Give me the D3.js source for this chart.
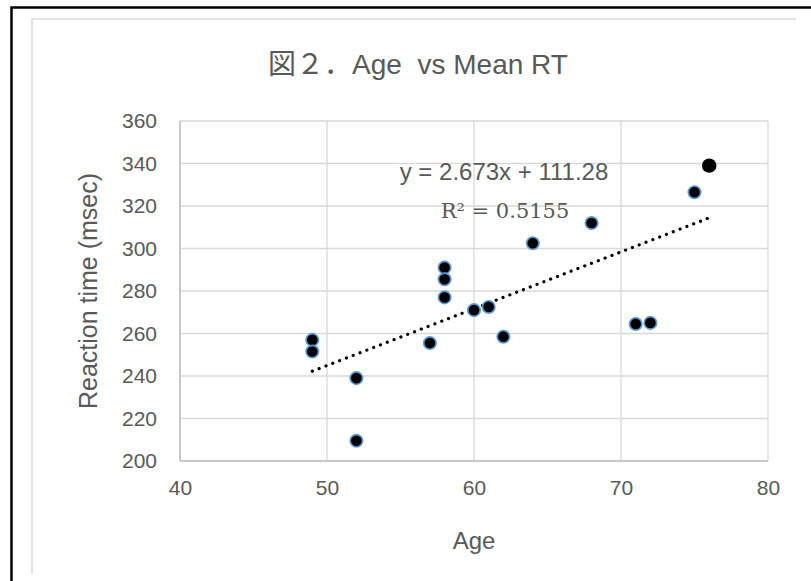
<!DOCTYPE html>
<html>
<head>
<meta charset="utf-8">
<script src="https://cdn.jsdelivr.net/npm/d3@7"></script>
<style>
  body { margin: 0; background: #fff; }
  text { font-family: "Liberation Sans", Arial, sans-serif; fill: #595959; }
</style>
</head>
<body>
<svg class="viz"></svg>
<script>
var width = 811,
  height = 581;

// data
var ages = [49, 49, 52, 52, 57, 58, 58, 58, 60, 61, 62, 64, 68, 71, 72, 75];
var rts = [257, 251.5, 239, 209.5, 255.5, 291, 285.5, 277, 271, 272.5, 258.5, 302.5, 312, 264.5, 265, 326.5];
// highlighted point (no blue ring, bigger)
var big_age = [76];
var big_rt = [339];

var x_ticks = [40, 50, 60, 70, 80];
var y_ticks = [200, 220, 240, 260, 280, 300, 320, 340, 360];

var slope = 2.673,
  intercept = 111.28,
  r2 = "0.5155";

var margin = { left: 180, right: 43, top: 121, bottom: 120 };

var viz = d3.select(".viz")
  .attr("width", width)
  .attr("height", height);

// outer frame (black) + inner chart area edge (light gray)
viz.append("path")
  .attr("d", "M11.5,581 V7.5 H811")
  .attr("fill", "none").attr("stroke", "#000").attr("stroke-width", 2.5);
viz.append("path")
  .attr("d", "M32,574 V19 H796")
  .attr("fill", "none").attr("stroke", "#d9d9d9").attr("stroke-width", 1.5);

var x = d3.scaleLinear().domain([40, 80]).range([margin.left, width - margin.right]);
var y = d3.scaleLinear().domain([200, 360]).range([height - margin.bottom, margin.top]);

// grid
viz.append("g").selectAll("line").data(y_ticks).enter().append("line")
  .attr("x1", x(40)).attr("x2", x(80))
  .attr("y1", d => y(d)).attr("y2", d => y(d))
  .attr("stroke", "#d9d9d9").attr("stroke-width", 1.3);
viz.append("g").selectAll("line").data(x_ticks).enter().append("line")
  .attr("x1", d => x(d)).attr("x2", d => x(d))
  .attr("y1", y(200)).attr("y2", y(360))
  .attr("stroke", "#d9d9d9").attr("stroke-width", 1.3);

// axes lines
viz.append("line")
  .attr("x1", x(40)).attr("x2", x(80)).attr("y1", y(200)).attr("y2", y(200))
  .attr("stroke", "#bfbfbf").attr("stroke-width", 1.5);
viz.append("line")
  .attr("x1", x(40)).attr("x2", x(40)).attr("y1", y(200)).attr("y2", y(360))
  .attr("stroke", "#bfbfbf").attr("stroke-width", 1.5);

// tick labels via d3 axes, then strip the lines
var xAxis = viz.append("g")
  .attr("transform", "translate(0," + y(200) + ")")
  .call(d3.axisBottom(x).tickValues(x_ticks).tickSize(0).tickPadding(19));
var yAxis = viz.append("g")
  .attr("transform", "translate(" + x(40) + ",0)")
  .call(d3.axisLeft(y).tickValues(y_ticks).tickSize(0).tickPadding(23));
[xAxis, yAxis].forEach(function(a) {
  a.select(".domain").remove();
  a.selectAll("text")
    .style("font-family", "'Liberation Sans', Arial, sans-serif")
    .style("font-size", "21px")
    .attr("fill", "#595959");
});

// trendline
var tr = [49, 76];
viz.append("line")
  .attr("x1", x(tr[0])).attr("y1", y(slope * tr[0] + intercept))
  .attr("x2", x(tr[1])).attr("y2", y(slope * tr[1] + intercept))
  .attr("stroke", "#000").attr("stroke-width", 3.2)
  .attr("stroke-linecap", "round")
  .attr("stroke-dasharray", "0.1 7.2");

// points
var pts = ages.map(function(a, i) { return [a, rts[i]]; });
viz.append("g").selectAll("circle").data(pts).enter().append("circle")
  .attr("cx", d => x(d[0])).attr("cy", d => y(d[1]))
  .attr("r", 6.2)
  .attr("fill", "#000").attr("stroke", "#5b9bd5").attr("stroke-width", 1.7);
viz.append("g").selectAll("circle").data(big_age.map((a, i) => [a, big_rt[i]])).enter().append("circle")
  .attr("cx", d => x(d[0])).attr("cy", d => y(d[1]))
  .attr("r", 7.2)
  .attr("fill", "#000");

// trendline labels
viz.append("text")
  .attr("x", 504).attr("y", 180)
  .attr("text-anchor", "middle")
  .style("font-size", "24px")
  .text("y = " + slope + "x + " + intercept);
viz.append("text")
  .attr("x", 505).attr("y", 218)
  .attr("text-anchor", "middle")
  .style("font-family", "'DejaVu Serif', 'Liberation Serif', serif")
  .style("font-size", "21px")
  .text("R² = " + r2);

// title & axis titles
viz.append("text")
  .attr("x", 418).attr("y", 74)
  .attr("text-anchor", "middle")
  .attr("xml:space", "preserve")
  .style("font-family", "'Liberation Sans', 'Noto Sans CJK JP', sans-serif")
  .style("font-size", "28px")
  .text("図２．Age  vs Mean RT");
viz.append("text")
  .attr("x", x(60)).attr("y", 549)
  .attr("text-anchor", "middle")
  .style("font-size", "24px")
  .text("Age");
viz.append("text")
  .attr("transform", "translate(97," + y(280) + ") rotate(-90)")
  .attr("text-anchor", "middle")
  .style("font-size", "25px")
  .text("Reaction time (msec)");
</script>
</body>
</html>
